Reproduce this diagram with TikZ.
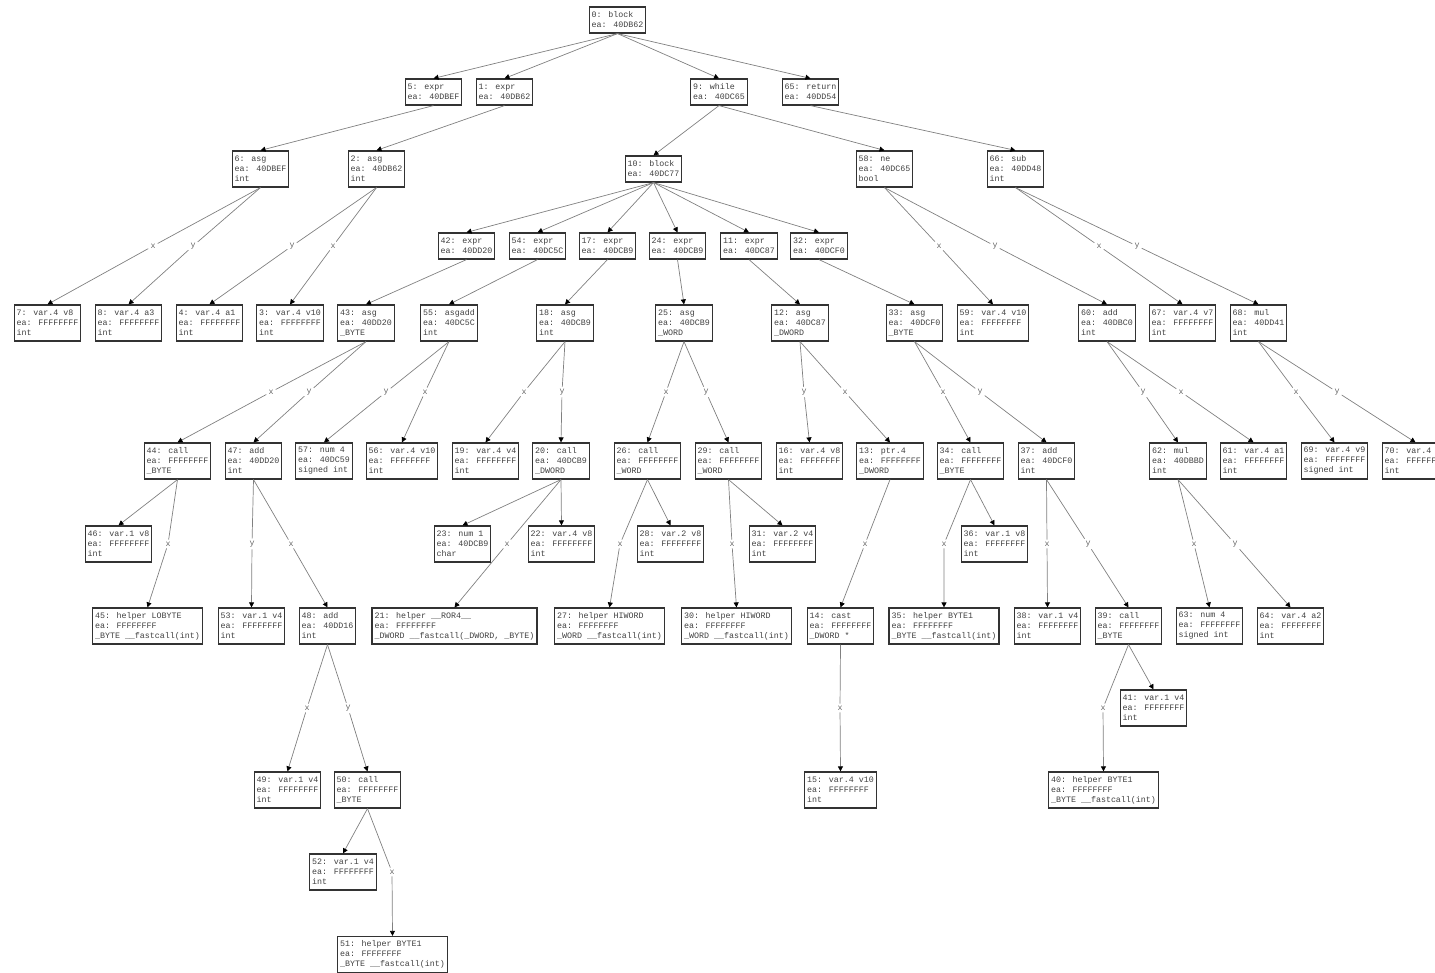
\documentclass[tikz,border=0pt]{standalone}
\usepackage{fontspec}
\newfontfamily\monofam{Liberation Mono}
\newcommand\astfont{\monofam\fontsize{8.33pt}{10pt}\selectfont}
\usetikzlibrary{arrows.meta}

\begin{document}
\begin{tikzpicture}[
    x=1pt, y=-1pt,
    every node/.style={font=\astfont},
    ast/.style={
      draw=black!80,
      line width=1.2pt,
      rectangle,
      inner xsep=2.5pt,
      inner ysep=0pt,
      text=black!75,
      align=left
    },
    two/.style={ast, minimum height=26pt},
    three/.style={ast, minimum height=36pt},
    lbl/.style={text=black!60, inner sep=2pt},
    link/.style={draw=black!50, line width=0.7pt, -{Triangle[length=5pt,width=5pt,color=black]}}
  ]
    \useasboundingbox (0,0) rectangle (1435,973);
    \clip (0,0) rectangle (1435,973);

    % rank 0 and 1
    \node[two] (n0) at (617.5,20) {0: block\\ea: 40DB62};
    \node[two] (n5) at (433.5,92) {5: expr\\ea: 40DBEF};
    \node[two] (n1) at (504.5,92) {1: expr\\ea: 40DB62};
    \node[two] (n9) at (719,92) {9: while\\ea: 40DC65};
    \node[two] (n65) at (810.5,92) {65: return\\ea: 40DD54};

    % rank 2
    \node[three] (n6) at (260.5,169) {6: asg\\ea: 40DBEF\\int};
    \node[three] (n2) at (376.5,169) {2: asg\\ea: 40DB62\\int};
    \node[two] (n10) at (653.5,169) {10: block\\ea: 40DC77};
    \node[three] (n58) at (884.5,169) {58: ne\\ea: 40DC65\\bool};
    \node[three] (n66) at (1015.5,169) {66: sub\\ea: 40DD48\\int};

    % rank 3
    \node[two] (n42) at (466.5,246) {42: expr\\ea: 40DD20};
    \node[two] (n54) at (537.5,246) {54: expr\\ea: 40DC5C};
    \node[two] (n17) at (607.5,246) {17: expr\\ea: 40DCB9};
    \node[two] (n24) at (677.5,246) {24: expr\\ea: 40DCB9};
    \node[two] (n11) at (749,246) {11: expr\\ea: 40DC87};
    \node[two] (n32) at (819,246) {32: expr\\ea: 40DCF0};
    \node[lbl] (l7) at (153,246) {x};
    \node[lbl] (l8) at (193,246) {y};
    \node[lbl] (l4) at (292,246) {y};
    \node[lbl] (l3) at (333,246) {x};
    \node[lbl] (l59) at (939,246) {x};
    \node[lbl] (l60) at (995,246) {y};
    \node[lbl] (l67) at (1099,246) {x};
    \node[lbl] (l68) at (1137,246) {y};

    % rank 4
    \node[three] (n7) at (47.5,323) {7: var.4 v8\\ea: FFFFFFFF\\int};
    \node[three] (n8) at (128.5,323) {8: var.4 a3\\ea: FFFFFFFF\\int};
    \node[three] (n4) at (209.5,323) {4: var.4 a1\\ea: FFFFFFFF\\int};
    \node[three] (n3) at (290,323) {3: var.4 v10\\ea: FFFFFFFF\\int};
    \node[three] (n43) at (366,323) {43: asg\\ea: 40DD20\\\_BYTE};
    \node[three] (n55) at (449,323) {55: asgadd\\ea: 40DC5C\\int};
    \node[three] (n18) at (565,323) {18: asg\\ea: 40DCB9\\int};
    \node[three] (n25) at (684,323) {25: asg\\ea: 40DCB9\\\_WORD};
    \node[three] (n12) at (800,323) {12: asg\\ea: 40DC87\\\_DWORD};
    \node[three] (n33) at (914.5,323) {33: asg\\ea: 40DCF0\\\_BYTE};
    \node[three] (n59) at (993,323) {59: var.4 v10\\ea: FFFFFFFF\\int};
    \node[three] (n60) at (1107,323) {60: add\\ea: 40DBC0\\int};
    \node[three] (n67) at (1182.5,323) {67: var.4 v7\\ea: FFFFFFFF\\int};
    \node[three] (n68) at (1258.5,323) {68: mul\\ea: 40DD41\\int};

    % rank 5 (edge labels)
    \node[lbl] (l44) at (271,392) {x};
    \node[lbl] (l47) at (309,392) {y};
    \node[lbl] (l57) at (386,392) {y};
    \node[lbl] (l56) at (425,392) {x};
    \node[lbl] (l19) at (524,392) {x};
    \node[lbl] (l20) at (562,392) {y};
    \node[lbl] (l26) at (666,392) {x};
    \node[lbl] (l29) at (706,392) {y};
    \node[lbl] (l16) at (804,392) {y};
    \node[lbl] (l13) at (845,392) {x};
    \node[lbl] (l34) at (943,392) {x};
    \node[lbl] (l37) at (980,392) {y};
    \node[lbl] (l62) at (1143,392) {y};
    \node[lbl] (l61) at (1181,392) {x};
    \node[lbl] (l69) at (1296,392) {x};
    \node[lbl] (l70) at (1337,392) {y};

    % rank 6
    \node[three] (n44) at (177.5,461) {44: call\\ea: FFFFFFFF\\\_BYTE};
    \node[three] (n47) at (253.5,461) {47: add\\ea: 40DD20\\int};
    \node[three] (n57) at (324,461) {57: num 4\\ea: 40DC59\\signed int};
    \node[three] (n56) at (402,461) {56: var.4 v10\\ea: FFFFFFFF\\int};
    \node[three] (n19) at (485.5,461) {19: var.4 v4\\ea: FFFFFFFF\\int};
    \node[three] (n20) at (561,461) {20: call\\ea: 40DCB9\\\_DWORD};
    \node[three] (n26) at (647.5,461) {26: call\\ea: FFFFFFFF\\\_WORD};
    \node[three] (n29) at (728.5,461) {29: call\\ea: FFFFFFFF\\\_WORD};
    \node[three] (n16) at (809.5,461) {16: var.4 v8\\ea: FFFFFFFF\\int};
    \node[three] (n13) at (890,461) {13: ptr.4\\ea: FFFFFFFF\\\_DWORD};
    \node[three] (n34) at (970.5,461) {34: call\\ea: FFFFFFFF\\\_BYTE};
    \node[three] (n37) at (1046.5,461) {37: add\\ea: 40DCF0\\int};
    \node[three] (n62) at (1178,461) {62: mul\\ea: 40DBBD\\int};
    \node[three] (n61) at (1253.5,461) {61: var.4 a1\\ea: FFFFFFFF\\int};
    \node[three] (n69) at (1334.5,461) {69: var.4 v9\\ea: FFFFFFFF\\signed int};
    \node[three] (n70) at (1415.5,461) {70: var.4\\ea: FFFFFFFF\\int};

    % rank 7
    \node[three] (n46) at (118.5,544) {46: var.1 v8\\ea: FFFFFFFF\\int};
    \node[three] (n23) at (462.5,544) {23: num 1\\ea: 40DCB9\\char};
    \node[three] (n22) at (561.5,544) {22: var.4 v8\\ea: FFFFFFFF\\int};
    \node[three] (n28) at (670.5,544) {28: var.2 v8\\ea: FFFFFFFF\\int};
    \node[three] (n31) at (782.5,544) {31: var.2 v4\\ea: FFFFFFFF\\int};
    \node[three] (n36) at (994.5,544) {36: var.1 v8\\ea: FFFFFFFF\\int};
    \node[lbl] (l45) at (168,544) {x};
    \node[lbl] (l53) at (252,544) {y};
    \node[lbl] (l48) at (291,544) {x};
    \node[lbl] (l21) at (507,544) {x};
    \node[lbl] (l27) at (620,544) {x};
    \node[lbl] (l30) at (732,544) {x};
    \node[lbl] (l14) at (865,544) {x};
    \node[lbl] (l35) at (944,544) {x};
    \node[lbl] (l38) at (1047,544) {x};
    \node[lbl] (l39) at (1088,544) {y};
    \node[lbl] (l63) at (1194,544) {x};
    \node[lbl] (l64) at (1235,544) {y};

    % rank 8
    \node[three] (n45) at (147.5,626) {45: helper LOBYTE\\ea: FFFFFFFF\\\_BYTE \_\_fastcall(int)};
    \node[three] (n53) at (251.5,626) {53: var.1 v4\\ea: FFFFFFFF\\int};
    \node[three] (n48) at (327.5,626) {48: add\\ea: 40DD16\\int};
    \node[three] (n21) at (454.5,626) {21: helper \_\_ROR4\_\_\\ea: FFFFFFFF\\\_DWORD \_\_fastcall(\_DWORD, \_BYTE)};
    \node[three] (n27) at (609.5,626) {27: helper HIWORD\\ea: FFFFFFFF\\\_WORD \_\_fastcall(int)};
    \node[three] (n30) at (736.5,626) {30: helper HIWORD\\ea: FFFFFFFF\\\_WORD \_\_fastcall(int)};
    \node[three] (n14) at (840.5,626) {14: cast\\ea: FFFFFFFF\\\_DWORD *};
    \node[three] (n35) at (944,626) {35: helper BYTE1\\ea: FFFFFFFF\\\_BYTE \_\_fastcall(int)};
    \node[three] (n38) at (1047.5,626) {38: var.1 v4\\ea: FFFFFFFF\\int};
    \node[three] (n39) at (1128.5,626) {39: call\\ea: FFFFFFFF\\\_BYTE};
    \node[three] (n63) at (1209.5,626) {63: num 4\\ea: FFFFFFFF\\signed int};
    \node[three] (n64) at (1290.5,626) {64: var.4 a2\\ea: FFFFFFFF\\int};

    % rank 9
    \node[three] (n41) at (1153.5,708) {41: var.1 v4\\ea: FFFFFFFF\\int};
    \node[lbl] (l49) at (307,708) {x};
    \node[lbl] (l50) at (348,708) {y};
    \node[lbl] (l15) at (840,708) {x};
    \node[lbl] (l40) at (1103,708) {x};

    % rank 10 to 12
    \node[three] (n49) at (287.5,790) {49: var.1 v4\\ea: FFFFFFFF\\int};
    \node[three] (n50) at (367.5,790) {50: call\\ea: FFFFFFFF\\\_BYTE};
    \node[three] (n15) at (840.5,790) {15: var.4 v10\\ea: FFFFFFFF\\int};
    \node[three] (n40) at (1103.5,790) {40: helper BYTE1\\ea: FFFFFFFF\\\_BYTE \_\_fastcall(int)};
    \node[three] (n52) at (343,872) {52: var.1 v4\\ea: FFFFFFFF\\int};
    \node[lbl] (l51) at (392,872) {x};
    \node[three] (n51) at (392.5,954.5) {51: helper BYTE1\\ea: FFFFFFFF\\\_BYTE \_\_fastcall(int)};

    % plain edges
    \draw[link] (n0.south) -- (n5.north);
    \draw[link] (n0.south) -- (n1.north);
    \draw[link] (n0.south) -- (n9.north);
    \draw[link] (n0.south) -- (n65.north);
    \draw[link] (n5.south) -- (n6.north);
    \draw[link] (n1.south) -- (n2.north);
    \draw[link] (n9.south) -- (n10.north);
    \draw[link] (n9.south) -- (n58.north);
    \draw[link] (n65.south) -- (n66.north);
    \draw[link] (n10.south) -- (n42.north);
    \draw[link] (n10.south) -- (n54.north);
    \draw[link] (n10.south) -- (n17.north);
    \draw[link] (n10.south) -- (n24.north);
    \draw[link] (n10.south) -- (n11.north);
    \draw[link] (n10.south) -- (n32.north);
    \draw[link] (n42.south) -- (n43.north);
    \draw[link] (n54.south) -- (n55.north);
    \draw[link] (n17.south) -- (n18.north);
    \draw[link] (n24.south) -- (n25.north);
    \draw[link] (n11.south) -- (n12.north);
    \draw[link] (n32.south) -- (n33.north);
    \draw[link] (n44.south) -- (n46.north);
    \draw[link] (n20.south) -- (n23.north);
    \draw[link] (n20.south) -- (n22.north);
    \draw[link] (n26.south) -- (n28.north);
    \draw[link] (n29.south) -- (n31.north);
    \draw[link] (n34.south) -- (n36.north);
    \draw[link] (n39.south) -- (n41.north);
    \draw[link] (n50.south) -- (n52.north);

    % labelled edges
    \draw[link] (n6.south) -- (l7) -- (n7.north);
    \draw[link] (n6.south) -- (l8) -- (n8.north);
    \draw[link] (n2.south) -- (l4) -- (n4.north);
    \draw[link] (n2.south) -- (l3) -- (n3.north);
    \draw[link] (n58.south) -- (l59) -- (n59.north);
    \draw[link] (n58.south) -- (l60) -- (n60.north);
    \draw[link] (n66.south) -- (l67) -- (n67.north);
    \draw[link] (n66.south) -- (l68) -- (n68.north);
    \draw[link] (n43.south) -- (l44) -- (n44.north);
    \draw[link] (n43.south) -- (l47) -- (n47.north);
    \draw[link] (n55.south) -- (l57) -- (n57.north);
    \draw[link] (n55.south) -- (l56) -- (n56.north);
    \draw[link] (n18.south) -- (l19) -- (n19.north);
    \draw[link] (n18.south) -- (l20) -- (n20.north);
    \draw[link] (n25.south) -- (l26) -- (n26.north);
    \draw[link] (n25.south) -- (l29) -- (n29.north);
    \draw[link] (n12.south) -- (l16) -- (n16.north);
    \draw[link] (n12.south) -- (l13) -- (n13.north);
    \draw[link] (n33.south) -- (l34) -- (n34.north);
    \draw[link] (n33.south) -- (l37) -- (n37.north);
    \draw[link] (n60.south) -- (l62) -- (n62.north);
    \draw[link] (n60.south) -- (l61) -- (n61.north);
    \draw[link] (n68.south) -- (l69) -- (n69.north);
    \draw[link] (n68.south) -- (l70) -- (n70.north);
    \draw[link] (n44.south) -- (l45) -- (n45.north);
    \draw[link] (n47.south) -- (l53) -- (n53.north);
    \draw[link] (n47.south) -- (l48) -- (n48.north);
    \draw[link] (n20.south) -- (l21) -- (n21.north);
    \draw[link] (n26.south) -- (l27) -- (n27.north);
    \draw[link] (n29.south) -- (l30) -- (n30.north);
    \draw[link] (n13.south) -- (l14) -- (n14.north);
    \draw[link] (n34.south) -- (l35) -- (n35.north);
    \draw[link] (n37.south) -- (l38) -- (n38.north);
    \draw[link] (n37.south) -- (l39) -- (n39.north);
    \draw[link] (n62.south) -- (l63) -- (n63.north);
    \draw[link] (n62.south) -- (l64) -- (n64.north);
    \draw[link] (n48.south) -- (l49) -- (n49.north);
    \draw[link] (n48.south) -- (l50) -- (n50.north);
    \draw[link] (n14.south) -- (l15) -- (n15.north);
    \draw[link] (n39.south) -- (l40) -- (n40.north);
    \draw[link] (n50.south) -- (l51) -- (n51.north);
  \end{tikzpicture}
\end{document}
